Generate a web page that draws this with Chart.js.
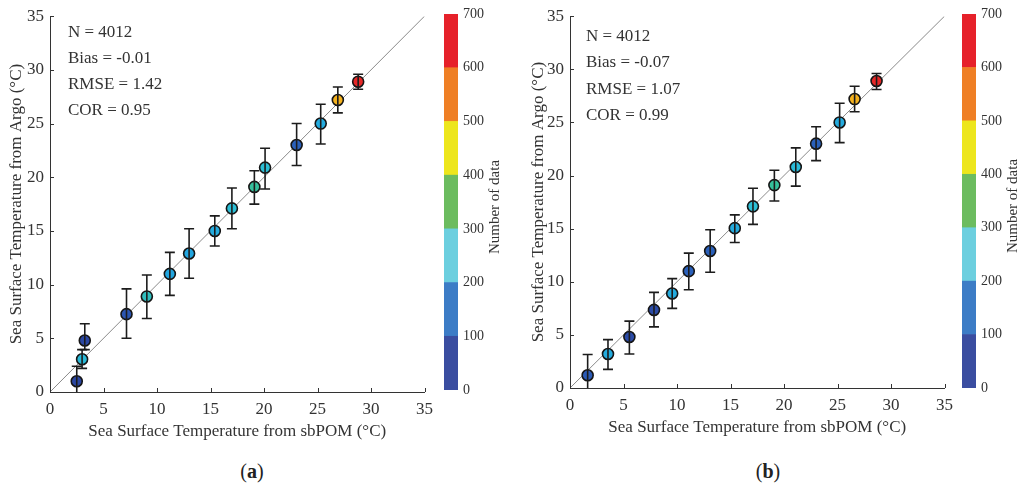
<!DOCTYPE html>
<html>
<head>
<meta charset="utf-8">
<script src="https://cdn.jsdelivr.net/npm/chart.js@4.4.1/dist/chart.umd.min.js"></script>
<style>
  body { margin: 0; background: #fff; width: 1027px; height: 486px; position: relative; overflow: hidden; }
  canvas { position: absolute; }
  .tag { position: absolute; top: 460px; font-family: "Liberation Serif", "Times New Roman", serif; font-size: 20px; color: #222; transform: translateX(-50%); }
</style>
</head>
<body>
<canvas id="chartA" width="440" height="445" style="left:0;top:0"></canvas>
<canvas id="barA" width="75" height="445" style="left:440px;top:0"></canvas>
<canvas id="chartB" width="440" height="445" style="left:520px;top:0"></canvas>
<canvas id="barB" width="69" height="445" style="left:958px;top:0"></canvas>
<div class="tag" style="left:252px">(<b>a</b>)</div>
<div class="tag" style="left:768px">(<b>b</b>)</div>
<script>
// panel (a): sbPOM vs Argo, bin means
var xsA = [2.5, 3.0, 3.25, 7.15, 9.05, 11.2, 13.0, 15.4, 17.0, 19.1, 20.1, 23.05, 25.3, 26.9, 28.8];
var ysA = [1.0, 3.05, 4.8, 7.25, 8.9, 11.0, 12.9, 15.0, 17.1, 19.1, 20.9, 23.0, 25.0, 27.2, 28.9];
var loA = [-0.4, 2.2, 3.95, 5.0, 6.85, 9.0, 10.6, 13.6, 15.2, 17.5, 18.9, 21.1, 23.1, 26.0, 28.2];
var hiA = [2.4, 3.95, 6.35, 9.6, 10.9, 13.0, 15.2, 16.4, 19.0, 20.6, 22.7, 25.0, 26.8, 28.4, 29.6];
var countsA = [60, 240, 60, 110, 270, 200, 200, 210, 250, 300, 250, 130, 210, 500, 690];
var statsA = ["N = 4012", "Bias = -0.01", "RMSE = 1.42", "COR = 0.95"];

// panel (b)
var xsB = [1.65, 3.55, 5.55, 7.85, 9.55, 11.1, 13.1, 15.4, 17.1, 19.1, 21.1, 23.0, 25.2, 26.6, 28.65];
var ysB = [1.2, 3.2, 4.8, 7.35, 8.9, 11.0, 12.9, 15.05, 17.1, 19.1, 20.8, 23.0, 25.0, 27.2, 28.9];
var loB = [-0.3, 1.75, 3.2, 5.75, 7.5, 9.25, 10.9, 13.7, 15.4, 17.6, 19.0, 21.4, 23.1, 26.0, 28.1];
var hiB = [3.15, 4.55, 6.3, 9.0, 10.3, 12.7, 14.9, 16.3, 18.8, 20.5, 22.6, 24.6, 26.8, 28.4, 29.6];
var countsB = [120, 210, 80, 80, 210, 130, 130, 210, 250, 300, 240, 130, 210, 500, 690];
var statsB = ["N = 4012", "Bias = -0.07", "RMSE = 1.07", "COR = 0.99"];

// colorbar
var bandEdges = [0, 100, 200, 300, 400, 500, 600, 700];
var bandColors = ["#3a4da0", "#3c7cc6", "#6ccfdf", "#6cbc5f", "#ede61d", "#ef7f25", "#e6212a"];

var axisTicks = [0, 5, 10, 15, 20, 25, 30, 35];
var diag = [0, 35];

// marker colour scale (jet-like) used for the bin points
var stopVals = [0, 100, 150, 200, 250, 300, 400, 500, 600, 700];
var stopCols = ["#2b3a94", "#2b4fac", "#2a6cc4", "#22a6e0", "#2cbfd6", "#35c09c", "#8cc63f", "#f5b21e", "#f07a22", "#e51f28"];

function hexToRgb(h) {
  return [parseInt(h.substr(1, 2), 16), parseInt(h.substr(3, 2), 16), parseInt(h.substr(5, 2), 16)];
}
function countColor(n) {
  for (var i = 0; i < stopVals.length - 1; i++) {
    if (n <= stopVals[i + 1]) {
      var t = (n - stopVals[i]) / (stopVals[i + 1] - stopVals[i]);
      var a = hexToRgb(stopCols[i]), b = hexToRgb(stopCols[i + 1]);
      return "rgb(" + a.map(function (v, k) { return Math.round(v + (b[k] - v) * t); }).join(",") + ")";
    }
  }
  return stopCols[stopCols.length - 1];
}

Chart.defaults.font.family = '"Liberation Serif", "Times New Roman", serif';
Chart.defaults.color = "#333";

/////////////////////////////////////// plugins
var inwardTicks = {
  id: "inwardTicks",
  afterDatasetsDraw: function (chart) {
    var ctx = chart.ctx, a = chart.chartArea, x = chart.scales.x, y = chart.scales.y;
    ctx.save();
    ctx.strokeStyle = "#333";
    ctx.lineWidth = 1;
    ctx.beginPath();
    x.ticks.forEach(function (t) {
      var px = Math.round(x.getPixelForValue(t.value)) + 0.5;
      ctx.moveTo(px, a.bottom);
      ctx.lineTo(px, a.bottom - 4);
    });
    y.ticks.forEach(function (t) {
      var py = Math.round(y.getPixelForValue(t.value)) + 0.5;
      ctx.moveTo(a.left, py);
      ctx.lineTo(a.left + 4, py);
    });
    ctx.stroke();
    ctx.restore();
  }
};

var errorBars = {
  id: "errorBars",
  afterDatasetsDraw: function (chart) {
    var ctx = chart.ctx, a = chart.chartArea, x = chart.scales.x, y = chart.scales.y;
    var ds = chart.data.datasets[0];
    ctx.save();
    ctx.beginPath();
    ctx.rect(a.left, a.top, a.right - a.left, a.bottom - a.top);
    ctx.clip();
    ctx.strokeStyle = "#1c1c1c";
    ctx.lineWidth = 1.6;
    ds.data.forEach(function (p, i) {
      var px = x.getPixelForValue(p.x);
      var p1 = y.getPixelForValue(ds.errLo[i]);
      var p2 = y.getPixelForValue(ds.errHi[i]);
      ctx.beginPath();
      ctx.moveTo(px, p1); ctx.lineTo(px, p2);
      ctx.moveTo(px - 5, p1); ctx.lineTo(px + 5, p1);
      ctx.moveTo(px - 5, p2); ctx.lineTo(px + 5, p2);
      ctx.stroke();
    });
    ctx.restore();
  }
};

function statsText(lines, dx, dy, gap) {
  return {
    id: "statsText",
    afterDraw: function (chart) {
      var ctx = chart.ctx, a = chart.chartArea;
      ctx.save();
      ctx.font = '17px "Liberation Serif", "Times New Roman", serif';
      ctx.fillStyle = "#333";
      ctx.textBaseline = "middle";
      lines.forEach(function (s, i) {
        ctx.fillText(s, a.left + dx, a.top + dy + i * gap);
      });
      ctx.restore();
    }
  };
}

function barTitle(text, cx) {
  return {
    id: "barTitle",
    afterDraw: function (chart) {
      var ctx = chart.ctx, a = chart.chartArea;
      ctx.save();
      ctx.font = '15px "Liberation Serif", "Times New Roman", serif';
      ctx.fillStyle = "#333";
      ctx.textAlign = "center";
      ctx.textBaseline = "middle";
      ctx.translate(cx, (a.top + a.bottom) / 2 + 5);
      ctx.rotate(-Math.PI / 2);
      ctx.fillText(text, 0, 0);
      ctx.restore();
    }
  };
}

/////////////////////////////////////// scatter panels
function makePanel(id, xs, ys, lo, hi, counts, stats, g) {
  new Chart(document.getElementById(id), {
    type: "scatter",
    data: {
      datasets: [
        {
          data: xs.map(function (x, i) { return { x: x, y: ys[i] }; }),
          errLo: lo,
          errHi: hi,
          pointBackgroundColor: counts.map(countColor),
          pointBorderColor: "#151515",
          pointBorderWidth: 1.6,
          pointRadius: 5.5,
          order: 1
        },
        {
          type: "line",
          data: diag.map(function (v) { return { x: v, y: v }; }),
          borderColor: "#8a8a8a",
          borderWidth: 1,
          pointRadius: 0,
          order: 2
        }
      ]
    },
    options: {
      responsive: false,
      animation: false,
      events: [],
      layout: { padding: { left: 0, top: 14, right: g.right, bottom: 0 } },
      plugins: { legend: { display: false }, tooltip: { enabled: false } },
      scales: {
        x: {
          type: "linear", min: 0, max: 35,
          afterBuildTicks: function (s) { s.ticks = axisTicks.map(function (v) { return { value: v }; }); },
          ticks: { padding: 7, font: { size: 17 }, color: "#333" },
          grid: { display: false, drawTicks: false },
          border: { color: "#333", width: 1 },
          title: { display: true, text: "Sea Surface Temperature from sbPOM (°C)", font: { size: 17 }, color: "#333", padding: { top: 0, bottom: g.xtPad } },
          afterFit: function (s) { s.height = g.xh; }
        },
        y: {
          type: "linear", min: 0, max: 35,
          afterBuildTicks: function (s) { s.ticks = axisTicks.map(function (v) { return { value: v }; }); },
          ticks: { padding: 6, font: { size: 17 }, color: "#333" },
          grid: { display: false, drawTicks: false },
          border: { color: "#333", width: 1 },
          title: { display: true, text: "Sea Surface Temperature from Argo (°C)", font: { size: 17 }, color: "#333", padding: { top: g.ytPad, bottom: 0 } },
          afterFit: function (s) { s.width = 50; }
        }
      }
    },
    plugins: [errorBars, inwardTicks, statsText(stats, g.sx, g.sy, g.sgap)]
  });
}

function makeColorbar(id, w, pb, cx) {
  new Chart(document.getElementById(id), {
    type: "bar",
    data: {
      labels: [""],
      datasets: bandColors.map(function (c, i) {
        return { data: [bandEdges[i + 1] - bandEdges[i]], backgroundColor: c, borderWidth: 0, barPercentage: 1, categoryPercentage: 1 };
      })
    },
    options: {
      responsive: false,
      animation: false,
      events: [],
      layout: { padding: { left: 4, top: 14, right: 0, bottom: pb } },
      plugins: { legend: { display: false }, tooltip: { enabled: false } },
      scales: {
        x: { display: false, stacked: true },
        y: {
          stacked: true, position: "right", min: 0, max: 700,
          afterBuildTicks: function (s) { s.ticks = bandEdges.map(function (v) { return { value: v }; }); },
          ticks: { padding: 5, font: { size: 14 }, color: "#333" },
          grid: { display: false, drawTicks: false },
          border: { display: false },
          afterFit: function (s) { s.width = w; }
        }
      }
    },
    plugins: [barTitle("Number of data", cx)]
  });
}

makePanel("chartA", xsA, ysA, loA, hiA, countsA, statsA, { right: 12, xh: 53, xtPad: 3, ytPad: 6, sx: 18, sy: 16, sgap: 26 });
makePanel("chartB", xsB, ysB, loB, hiB, countsB, statsB, { right: 13, xh: 57, xtPad: 7, ytPad: 8, sx: 16, sy: 20, sgap: 26.5 });
makeColorbar("barA", 57, 55, 55);
makeColorbar("barB", 51, 57, 55);
</script>
</body>
</html>
